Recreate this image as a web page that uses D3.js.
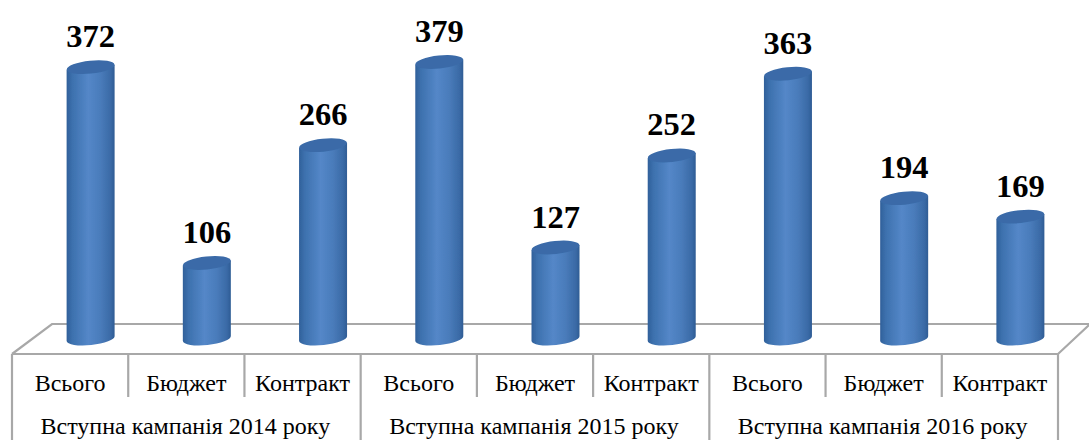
<!DOCTYPE html>
<html>
<head>
<meta charset="utf-8">
<script src="https://cdn.jsdelivr.net/npm/d3@7"></script>
<style>
html,body{margin:0;padding:0;background:#fff}
svg{display:block}
text{font-family:"Liberation Serif",serif;fill:#000}
</style>
</head>
<body>
<div id="chart"></div>
<script>
const categories = ["Всього","Бюджет","Контракт","Всього","Бюджет","Контракт","Всього","Бюджет","Контракт"];
const values = [372,106,266,379,127,252,363,194,169];
const groups = ["Вступна кампанія 2014 року","Вступна кампанія 2015 року","Вступна кампанія 2016 року"];

const W = 1089, H = 440;
const frontY = 354, backY = 324, midY = 397;
const frontL = 12, frontR = 1058, depthX = 40, depthRight = 31;
const barW = 48, ry = 6.5, tilt = -6, baseLift = 2.5;
const ids = d3.range(values.length);

const xFront = d3.scaleBand().domain(ids).range([frontL, frontR]);
const xBar = d3.scaleBand().domain(ids).range([frontL + 20.5, frontR + 20.5]);
const xGroup = d3.scaleBand().domain(d3.range(groups.length)).range([frontL, frontR]);
const y = d3.scaleLinear().domain([0, 379]).range([341, 62]);

const svg = d3.select("#chart").append("svg").attr("width", W).attr("height", H);

const defs = svg.append("defs");
const grad = defs.append("linearGradient").attr("id", "cyl");
[[0,"#30609a"],[0.12,"#3d71ae"],[0.45,"#5487c8"],[0.7,"#4a7cbb"],[0.92,"#3a6aa6"],[1,"#2f5c94"]]
  .forEach(([o,c]) => grad.append("stop").attr("offset", o).attr("stop-color", c));
defs.append("filter").attr("id","soft").append("feGaussianBlur").attr("stdDeviation",0.5);

const gridColor = "#a8a8a8";
const floor = svg.append("g").attr("fill","none").attr("stroke",gridColor).attr("stroke-width",2.2);
floor.append("path").attr("d",
  `M${frontL},${frontY}L${frontL+depthX},${backY}H${W}`);
floor.append("path").attr("d",`M${frontL},${frontY}H${frontR}L${frontR+depthRight},${backY+1}`);

// Category separators (short) and group separators (full height)
ids.forEach(i => {
  const x0 = xFront(i);
  const isGroupEdge = i % 3 === 0;
  floor.append("line").attr("x1",x0).attr("x2",x0).attr("y1",frontY)
    .attr("y2",isGroupEdge ? H : midY);
});
floor.append("line").attr("x1",frontR).attr("x2",frontR).attr("y1",frontY).attr("y2",H);

// Cylinders
const bars = svg.append("g").selectAll("g").data(ids).join("g").attr("filter","url(#soft)");
bars.append("path")
  .attr("fill","url(#cyl)")
  .attr("d", i => {
    const cx = xBar(i) + xBar.bandwidth()/2, l = cx - barW/2, r = cx + barW/2;
    const top = y(values[i]), base = y(0) - baseLift;
    const dy = Math.tan(-tilt*Math.PI/180)*barW/2;
    return `M${l},${top+dy}L${l},${base+dy}A${barW/2},${ry} ${tilt} 0 0 ${r},${base-dy}`
         + `L${r},${top-dy}Z`;
  });
bars.append("ellipse")
  .attr("cx", i => xBar(i) + xBar.bandwidth()/2)
  .attr("cy", i => y(values[i]))
  .attr("rx", barW/2).attr("ry", ry)
  .attr("transform", i => `rotate(${tilt} ${xBar(i)+xBar.bandwidth()/2} ${y(values[i])})`)
  .attr("fill","#3a6ba8");

// Value labels
svg.append("g").selectAll("text").data(ids).join("text")
  .attr("x", i => xBar(i) + xBar.bandwidth()/2)
  .attr("y", i => y(values[i]) - 20)
  .attr("text-anchor","middle")
  .attr("font-size",32.5).attr("font-weight","bold")
  .text(i => values[i]);

// Category labels
svg.append("g").selectAll("text").data(ids).join("text")
  .attr("x", i => xFront(i) + xFront.bandwidth()/2)
  .attr("y", 391)
  .attr("text-anchor","middle")
  .attr("font-size",24)
  .text(i => categories[i]);

// Group labels
svg.append("g").selectAll("text").data(groups).join("text")
  .attr("x", (d,i) => xGroup(i) + xGroup.bandwidth()/2 - 1)
  .attr("y", 434)
  .attr("text-anchor","middle")
  .attr("font-size",24)
  .text(d => d);
</script>
</body>
</html>
